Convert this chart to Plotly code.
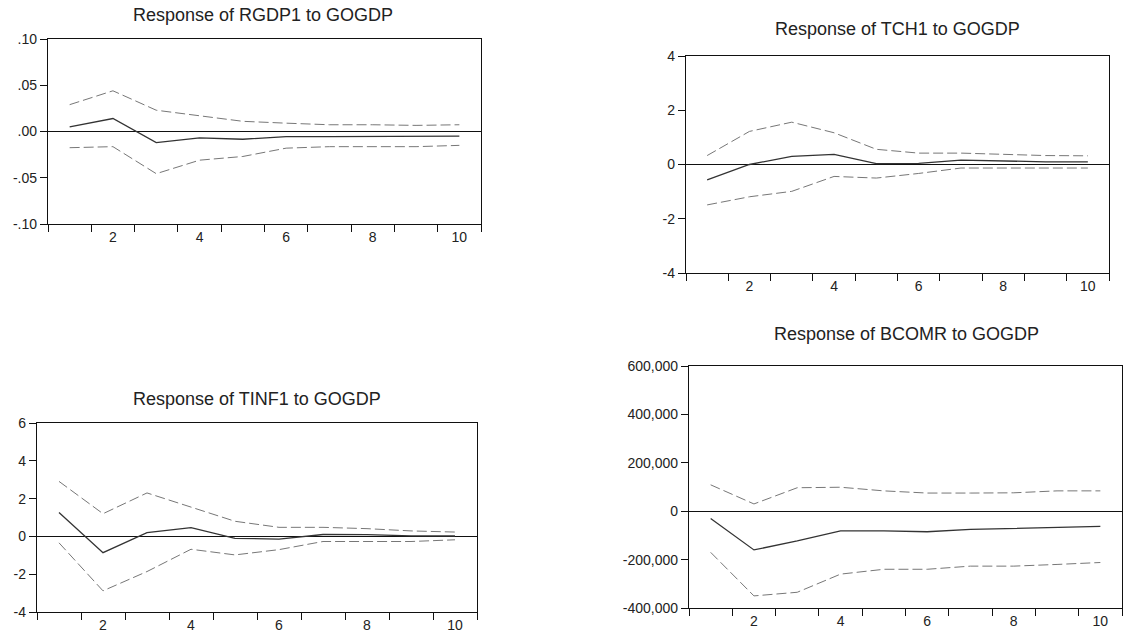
import plotly.graph_objects as go

horizon = [1, 2, 3, 4, 5, 6, 7, 8, 9, 10]

titles = ["Response of RGDP1 to GOGDP", "Response of TCH1 to GOGDP",
          "Response of TINF1 to GOGDP", "Response of BCOMR to GOGDP"]

rgdp1_resp = [0.005, 0.014, -0.012, -0.007, -0.0084, -0.0055, -0.0055, -0.0055, -0.0055, -0.005]
rgdp1_up = [0.029, 0.044, 0.023, 0.017, 0.011, 0.009, 0.0073, 0.0073, 0.0066, 0.0073]
rgdp1_lo = [-0.0175, -0.0164, -0.0456, -0.031, -0.027, -0.018, -0.0164, -0.0164, -0.0164, -0.015]

tch1_resp = [-0.57, 0.0, 0.3, 0.37, 0.03, 0.04, 0.16, 0.13, 0.1, 0.1]
tch1_up = [0.33, 1.22, 1.56, 1.17, 0.56, 0.42, 0.42, 0.37, 0.33, 0.32]
tch1_lo = [-1.49, -1.19, -0.99, -0.44, -0.5, -0.33, -0.13, -0.13, -0.13, -0.13]

tinf1_resp = [1.27, -0.86, 0.2, 0.46, -0.1, -0.14, 0.1, 0.09, 0.03, 0.02]
tinf1_up = [2.91, 1.2, 2.3, 1.57, 0.8, 0.48, 0.48, 0.41, 0.29, 0.23]
tinf1_lo = [-0.34, -2.88, -1.86, -0.68, -0.98, -0.7, -0.27, -0.27, -0.27, -0.18]

bcomr_resp = [-30000, -160000, -123000, -81000, -81000, -85000, -75000, -70000, -67000, -63000]
bcomr_up = [109000, 30000, 97000, 99000, 84000, 75000, 75000, 76000, 84000, 84000]
bcomr_lo = [-170000, -350000, -335000, -260000, -240000, -240000, -227000, -227000, -220000, -212000]

x_tick_labels = ["2", "4", "6", "8", "10"]
x_tick_vals = [2, 4, 6, 8, 10]

y_ticks = [
    ([0.10, 0.05, 0.0, -0.05, -0.10], [".10", ".05", ".00", "-.05", "-.10"]),
    ([4, 2, 0, -2, -4], ["4", "2", "0", "-2", "-4"]),
    ([6, 4, 2, 0, -2, -4], ["6", "4", "2", "0", "-2", "-4"]),
    ([600000, 400000, 200000, 0, -200000, -400000],
     ["600,000", "400,000", "200,000", "0", "-200,000", "-400,000"]),
]
y_ranges = [[-0.1, 0.1], [-4, 4], [-4, 6], [-400000, 600000]]

series = [
    (rgdp1_resp, rgdp1_up, rgdp1_lo),
    (tch1_resp, tch1_up, tch1_lo),
    (tinf1_resp, tinf1_up, tinf1_lo),
    (bcomr_resp, bcomr_up, bcomr_lo),
]

W, H = 1123, 639
# plot boxes in window pixels: left, right, top, bottom
boxes = [(48, 481, 39, 224), (686, 1109, 56, 273), (37, 477, 423, 612), (689, 1122, 366, 608)]
title_pos = [(263, 15), (897, 29), (257, 399), (906, 334)]

fig = go.Figure()
font = dict(family="Liberation Sans, Arial, sans-serif", color="#222")

for i, (resp, up, lo) in enumerate(series):
    xa = "x" if i == 0 else f"x{i+1}"
    ya = "y" if i == 0 else f"y{i+1}"
    fig.add_trace(go.Scatter(x=horizon, y=up, mode="lines", xaxis=xa, yaxis=ya,
                             line=dict(color="#777777", width=1, dash="10px,4px"), showlegend=False))
    fig.add_trace(go.Scatter(x=horizon, y=lo, mode="lines", xaxis=xa, yaxis=ya,
                             line=dict(color="#777777", width=1, dash="10px,4px"), showlegend=False))
    fig.add_trace(go.Scatter(x=horizon, y=resp, mode="lines", xaxis=xa, yaxis=ya,
                             line=dict(color="#333333", width=1.3), showlegend=False))
    l, r, t, b = boxes[i]
    xkey = "xaxis" if i == 0 else f"xaxis{i+1}"
    ykey = "yaxis" if i == 0 else f"yaxis{i+1}"
    fig.layout[xkey] = dict(
        domain=[max(l / W, 0), min(r / W, 1)], anchor=ya, range=[0.5, 10.5],
        tickvals=x_tick_vals, ticktext=x_tick_labels, ticks="", ticklen=0,
        showgrid=False, zeroline=False, showline=True, linecolor="#111", linewidth=1.3, mirror=True,
        automargin=False,
        tickfont=dict(size=14, **font),
        minor=dict(ticks="outside", tickmode="array",
                   tickvals=[0.5 + k for k in range(11)], ticklen=7, tickwidth=1.3, tickcolor="#111"),
    )
    tv, tt = y_ticks[i]
    fig.layout[ykey] = dict(
        domain=[max(1 - b / H, 0), min(1 - t / H, 1)], anchor=xa, range=y_ranges[i],
        tickvals=tv, ticktext=tt, ticks="outside", ticklen=7, tickwidth=1, tickcolor="#111",
        showgrid=False, zeroline=True, zerolinecolor="#111", zerolinewidth=1,
        showline=True, linecolor="#111", linewidth=1.3, mirror=True,
        automargin=False,
        tickfont=dict(size=14, **font),
    )
    tx, ty = title_pos[i]
    fig.add_annotation(text=titles[i], x=tx / W, y=1 - ty / H,
                       xref="paper", yref="paper",
                       showarrow=False, xanchor="center", yanchor="middle",
                       font=dict(size=18, **font))

fig.update_layout(width=W, height=H, margin=dict(l=0, r=0, t=0, b=0, autoexpand=False),
                  paper_bgcolor="white", plot_bgcolor="white")
fig.write_html("out.html", post_script="document.body.style.margin='0';",
               config={"displayModeBar": False})
